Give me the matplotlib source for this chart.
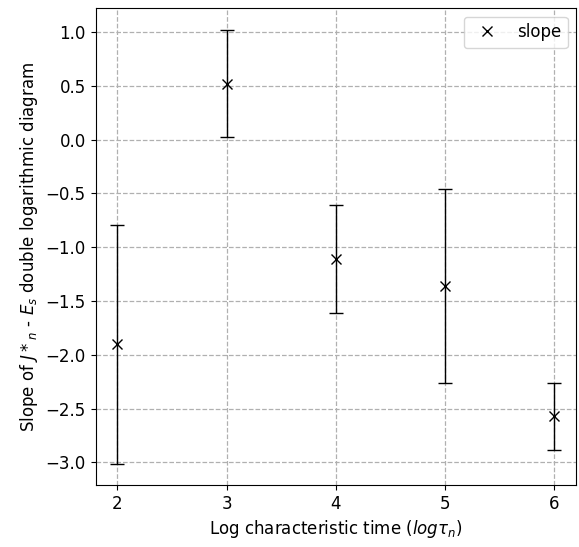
import matplotlib
matplotlib.use("Agg")
import matplotlib.pyplot as plt

# log characteristic time and fitted slope with its error
log_tau = [2, 3, 4, 5, 6]
slope = [-1.90, 0.52, -1.11, -1.36, -2.57]
slope_err = [1.11, 0.50, 0.50, 0.90, 0.31]

plt.rcParams['font.size'] = 12

fig, ax = plt.subplots(figsize=(5.79, 5.47), dpi=100)

eb = ax.errorbar(log_tau, slope, yerr=slope_err, fmt='x', color='black',
                 ecolor='black', elinewidth=1, capsize=5, markersize=7)

ax.set_xticks(log_tau)
ax.grid(True, linestyle='--', color='#b0b0b0', linewidth=0.9)
ax.set_xlabel(r'Log characteristic time ($log\tau_n$)')
ax.set_ylabel(r'Slope of $J*_n$ - $E_s$ double logarithmic diagram')
ax.legend([eb[0]], ['slope'], loc='upper right')

fig.subplots_adjust(left=0.165, right=0.995, top=0.985, bottom=0.113)
fig.savefig('out.png', dpi=100)
